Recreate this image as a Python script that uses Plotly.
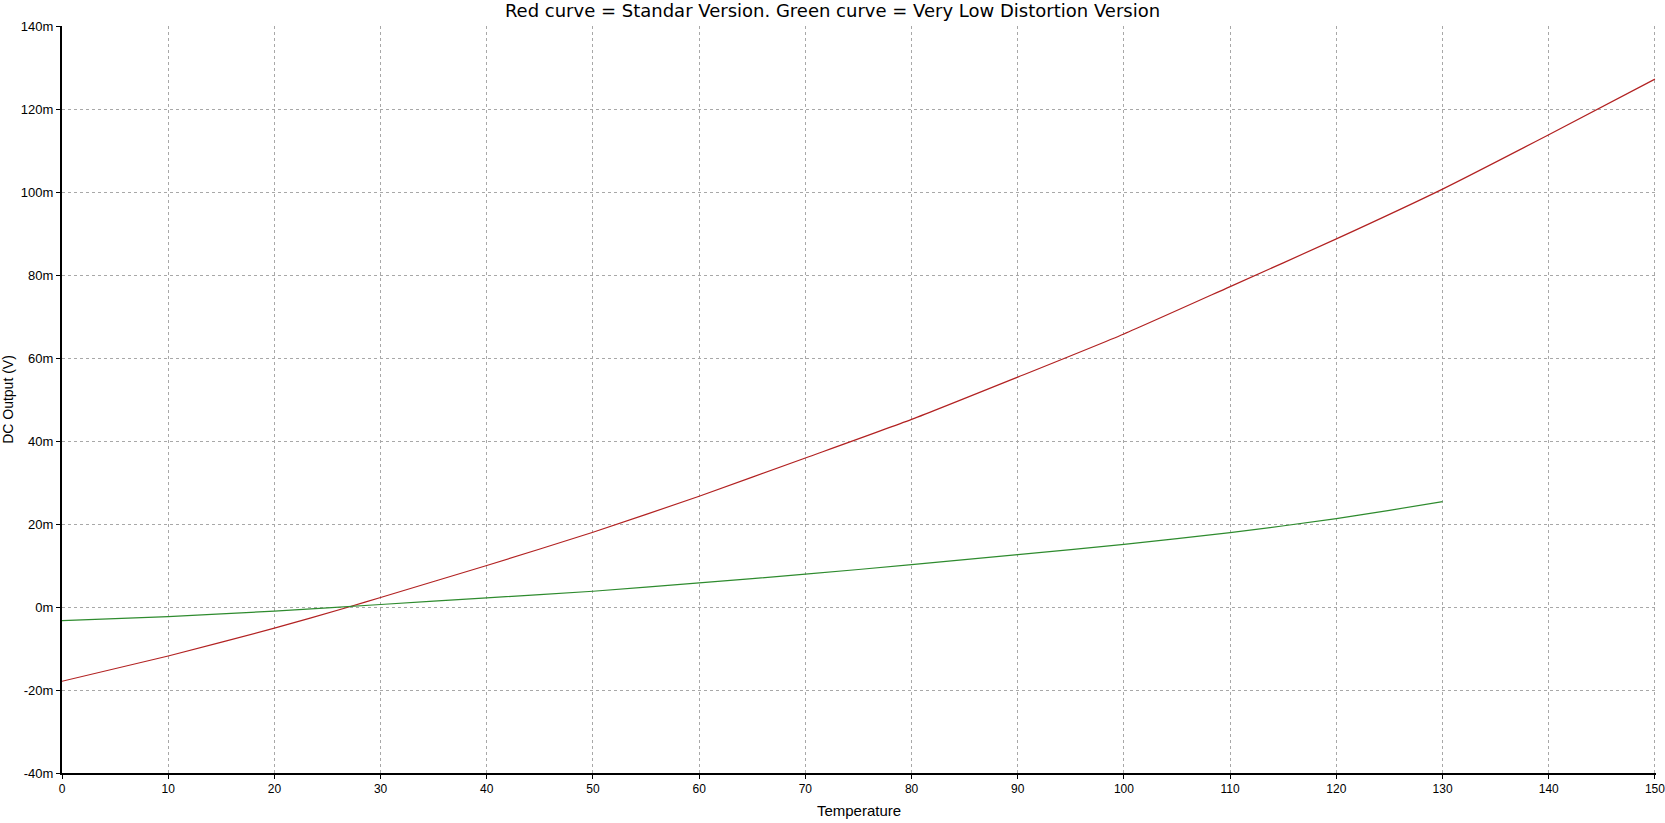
import plotly.graph_objects as go

# Temperature points
temp_red = [0, 10, 20, 27, 30, 40, 50, 60, 70, 80, 90, 100, 110, 120, 130, 140, 150]
dc_red_mv = [-17.9, -11.8, -5.1, 0.0, 2.3, 10.0, 18.0, 26.7, 35.9, 45.2, 55.4, 65.8, 77.2, 88.7, 100.7, 113.8, 127.2]

temp_green = [0, 10, 20, 30, 40, 50, 60, 70, 80, 90, 100, 110, 120, 125, 130]
dc_green_mv = [-3.3, -2.3, -1.0, 0.6, 2.2, 3.8, 5.8, 7.9, 10.2, 12.6, 15.1, 17.9, 21.3, 23.3, 25.4]

x_ticks = list(range(0, 151, 10))
y_ticks = list(range(-40, 141, 20))
y_ticktext = [f"{v}m" for v in y_ticks]

fig = go.Figure()
fig.add_trace(go.Scatter(x=temp_red, y=dc_red_mv, mode="lines",
                         line=dict(color="#b22222", width=1.2, shape="spline", smoothing=0.6),
                         name="Standard"))
fig.add_trace(go.Scatter(x=temp_green, y=dc_green_mv, mode="lines",
                         line=dict(color="#2e8b2e", width=1.2, shape="spline", smoothing=0.6),
                         name="Very Low Distortion"))

font = "Liberation Sans, Arial, sans-serif"
fig.update_layout(
    width=1665, height=823,
    margin=dict(l=62, r=0, t=26, b=50),
    paper_bgcolor="white", plot_bgcolor="white",
    showlegend=False,
    font=dict(family=font, size=12, color="black"),
    title=dict(text="Red curve = Standar Version. Green curve = Very Low Distortion Version",
               x=0.5, xanchor="center", y=1 - 11 / 823, yanchor="middle",
               font=dict(family="DejaVu Sans, sans-serif", size=18, color="black")),
)
fig.update_xaxes(
    range=[0, 150.1], tickvals=x_ticks, ticktext=[str(v) for v in x_ticks],
    showgrid=True, gridcolor="#a8a8a8", griddash="3px,3px", gridwidth=1,
    showline=True, linecolor="black", linewidth=2,
    ticks="outside", ticklen=4, tickcolor="black",
    zeroline=False, ticklabeloverflow="allow",
    title=dict(text="Temperature", standoff=10, font=dict(size=15)),
    tickfont=dict(size=12),
)
fig.update_yaxes(
    range=[-40, 140], tickvals=y_ticks, ticktext=y_ticktext,
    showgrid=True, gridcolor="#a8a8a8", griddash="3px,3px", gridwidth=1,
    showline=True, linecolor="black", linewidth=2,
    ticks="outside", ticklen=4, tickcolor="black",
    zeroline=False,
    title=dict(text="DC Output (V)", standoff=4, font=dict(size=14)),
    tickfont=dict(size=13),
)
fig.write_html("out.html", config={"displayModeBar": False},
               post_script="document.body.style.margin='0';document.body.style.overflow='hidden';")
